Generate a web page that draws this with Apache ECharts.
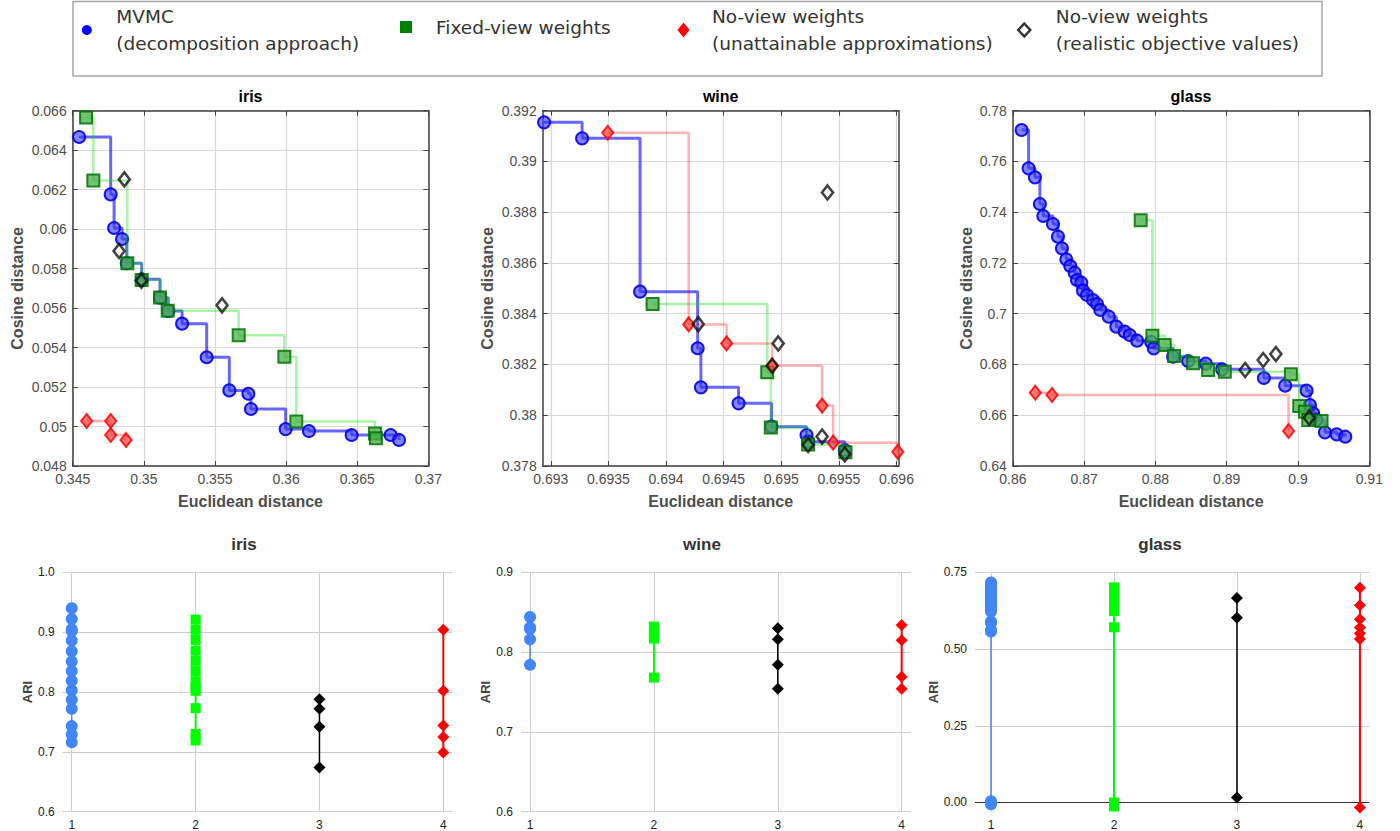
<!DOCTYPE html>
<html>
<head>
<meta charset="utf-8">
<script src="https://cdn.jsdelivr.net/npm/echarts@6/dist/echarts.min.js"></script>
<style>
html,body{margin:0;padding:0;background:#fff;}
#chart{width:1400px;height:831px;}
</style>
</head>
<body>
<div id="chart"></div>
<script>
// ---------------- DATA ----------------
const seriesNames = [
  'MVMC (decomposition approach)',
  'Fixed-view weights',
  'No-view weights (unattainable approximations)',
  'No-view weights (realistic objective values)'
];
const panelNames = ['iris', 'wine', 'glass'];

// Top row: [Euclidean distance, Cosine distance]
const irisMVMC = [[0.34545,0.06467],[0.34767,0.06176],[0.34791,0.06006],[0.34847,0.05950],[0.34880,0.05827],[0.34985,0.05746],[0.35114,0.05653],[0.35172,0.05585],[0.35269,0.05521],[0.35442,0.05351],[0.35601,0.05183],[0.35735,0.05166],[0.35753,0.05089],[0.35997,0.04987],[0.36161,0.04977],[0.36461,0.04957],[0.36735,0.04957],[0.36794,0.04932]];
const irisFixed = [[0.34594,0.06565],[0.34645,0.06247],[0.34884,0.05827],[0.34985,0.05742],[0.35114,0.05654],[0.35168,0.05587],[0.35667,0.05462],[0.35988,0.05354],[0.36072,0.05025],[0.36625,0.04965],[0.36632,0.04940]];
const irisUnattainable = [[0.34598,0.05028],[0.34767,0.05028],[0.34767,0.04957],[0.34875,0.04932]];
const irisRealistic = [[0.34863,0.06252],[0.34826,0.05889],[0.34983,0.05739],[0.35550,0.05614]];

const wineMVMC = [[0.692942,0.39154],[0.693272,0.39091],[0.693775,0.38487],[0.694275,0.38264],[0.694303,0.38110],[0.694630,0.38047],[0.694916,0.37955],[0.695220,0.37922],[0.695234,0.37896],[0.695552,0.37863]];
const wineFixed = [[0.693884,0.38438],[0.694879,0.38169],[0.694910,0.37952],[0.695234,0.37885],[0.695558,0.37854]];
const wineUnattainable = [[0.693494,0.39113],[0.694197,0.38358],[0.694526,0.38283],[0.694922,0.38195],[0.695355,0.38038],[0.695451,0.37892],[0.696012,0.37856]];
const wineRealistic = [[0.694280,0.38359],[0.694974,0.38283],[0.694922,0.38195],[0.695402,0.38878],[0.695355,0.37916],[0.695234,0.37883],[0.695552,0.37846]];

const glassMVMC = [[0.86122,0.77238],[0.86220,0.75728],[0.86309,0.75373],[0.86379,0.74323],[0.86426,0.73850],[0.86562,0.73535],[0.86632,0.73036],[0.86688,0.72576],[0.86749,0.72143],[0.86805,0.71880],[0.86866,0.71617],[0.86899,0.71329],[0.86960,0.71223],[0.86983,0.70908],[0.87039,0.70737],[0.87124,0.70540],[0.87180,0.70383],[0.87227,0.70146],[0.87344,0.69884],[0.87451,0.69490],[0.87568,0.69293],[0.87639,0.69161],[0.87742,0.68938],[0.87940,0.68890],[0.87976,0.68636],[0.88247,0.68308],[0.88458,0.68137],[0.88706,0.68032],[0.88935,0.67809],[0.89521,0.67467],[0.89820,0.67165],[0.90120,0.66968],[0.90167,0.66403],[0.90213,0.66075],[0.90260,0.65812],[0.90377,0.65326],[0.90541,0.65247],[0.90663,0.65155]];
const glassFixed = [[0.87793,0.73679],[0.87957,0.69135],[0.88130,0.68767],[0.88261,0.68334],[0.88528,0.68045],[0.88739,0.67782],[0.88973,0.67717],[0.89900,0.67612],[0.90017,0.66364],[0.90096,0.66141],[0.90143,0.65812],[0.90330,0.65773]];
const glassUnattainable = [[0.86314,0.66889],[0.86548,0.66797],[0.89867,0.65379]];
const glassRealistic = [[0.89258,0.67782],[0.89511,0.68176],[0.89689,0.68413],[0.90157,0.65904]];

// Axis tick values (top row)
const irisXTicks = [0.345,0.35,0.355,0.36,0.365,0.37];
const irisYTicks = [0.048,0.05,0.052,0.054,0.056,0.058,0.06,0.062,0.064,0.066];
const wineXTicks = [0.693,0.6935,0.694,0.6945,0.695,0.6955,0.696];
const wineYTicks = [0.378,0.38,0.382,0.384,0.386,0.388,0.39,0.392];
const glassXTicks = [0.86,0.87,0.88,0.89,0.9,0.91];
const glassYTicks = [0.64,0.66,0.68,0.7,0.72,0.74,0.76,0.78];

// Bottom row: ARI per method (1 = MVMC, 2 = fixed-view, 3 = realistic, 4 = unattainable)
const methodCategories = [1, 2, 3, 4];
const irisAriMVMC = [0.940,0.922,0.905,0.902,0.886,0.868,0.851,0.835,0.819,0.803,0.787,0.772,0.743,0.729,0.716];
const irisAriFixed = [0.921,0.904,0.887,0.869,0.852,0.835,0.818,0.808,0.802,0.773,0.730,0.719];
const irisAriRealistic = [0.788,0.772,0.742,0.674];
const irisAriUnattainable = [0.904,0.802,0.744,0.725,0.699];

const wineAriMVMC = [0.844,0.831,0.829,0.816,0.784];
const wineAriFixed = [0.832,0.826,0.820,0.817,0.768];
const wineAriRealistic = [0.830,0.816,0.784,0.754];
const wineAriUnattainable = [0.834,0.815,0.769,0.754];

const glassAriMVMC = [0.717,0.710,0.703,0.695,0.687,0.679,0.671,0.662,0.654,0.646,0.638,0.630,0.622,0.590,0.585,0.562,0.557,0.004,-0.001,-0.006];
const glassAriFixed = [0.701,0.690,0.680,0.670,0.660,0.652,0.624,0.571,0.000,-0.013];
const glassAriRealistic = [0.666,0.602,0.016];
const glassAriUnattainable = [0.700,0.643,0.597,0.570,0.551,0.533,-0.016];

const irisAriTicks = [0.6,0.7,0.8,0.9,1.0];
const wineAriTicks = [0.6,0.7,0.8,0.9];
const glassAriTicks = [0,0.25,0.5,0.75];

// ---------------- LAYOUT / STYLE ----------------
const SANS = 'Liberation Sans, Arial, Helvetica, sans-serif';
const topPanels = [
  {title:'iris', grid:{left:72.7, top:110.7, width:355.6, height:355.3}, xr:[0.345,0.37], yr:[0.048,0.066], xt:irisXTicks, yt:irisYTicks,
   series:[irisMVMC, irisFixed, irisUnattainable, irisRealistic], yGap:47.7, titleX:250.5},
  {title:'wine', grid:{left:542.7, top:110.7, width:356, height:355.3}, xr:[0.69293,0.69602], yr:[0.378,0.392], xt:wineXTicks, yt:wineYTicks,
   series:[wineMVMC, wineFixed, wineUnattainable, wineRealistic], yGap:47.7, titleX:720.7},
  {title:'glass', grid:{left:1012.9, top:110.7, width:356.4, height:355.3}, xr:[0.86,0.91], yr:[0.64,0.78], xt:glassXTicks, yt:glassYTicks,
   series:[glassMVMC, glassFixed, glassUnattainable, glassRealistic], yGap:38.4, titleX:1191}
];
const bottomPanels = [
  {title:'iris', grid:{left:62.7, top:572.3, width:389.3, height:239.4}, xr:[0.927,4.07], yr:[0.6,1.0], yt:irisAriTicks, dec:1,
   values:[irisAriMVMC, irisAriFixed, irisAriRealistic, irisAriUnattainable], yGap:29, titleX:244},
  {title:'wine', grid:{left:521, top:572.3, width:389.7, height:239.4}, xr:[0.927,4.073], yr:[0.6,0.9], yt:wineAriTicks, dec:1,
   values:[wineAriMVMC, wineAriFixed, wineAriRealistic, wineAriUnattainable], yGap:27.5, titleX:702},
  {title:'glass', grid:{left:975, top:572.3, width:394.3, height:239.4}, xr:[0.87,4.076], yr:[-0.03,0.75], yt:glassAriTicks, dec:2,
   values:[glassAriMVMC, glassAriFixed, glassAriRealistic, glassAriUnattainable], yGap:23.5, titleX:1160}
];

const topStyles = [
  {type:'line', step:'end', symbol:'circle', symbolSize:12,
   lineStyle:{color:'rgba(0,0,255,0.6)', width:3},
   itemStyle:{color:'rgba(50,50,255,0.6)', borderColor:'rgba(0,0,235,0.9)', borderWidth:2}},
  {type:'line', step:'end', symbol:'rect', symbolSize:12,
   lineStyle:{color:'rgba(0,225,0,0.35)', width:2.5},
   itemStyle:{color:'rgba(70,175,70,0.75)', borderColor:'rgba(0,115,0,0.85)', borderWidth:2}},
  {type:'line', step:'end', symbol:'diamond', symbolSize:[11,14],
   lineStyle:{color:'rgba(255,0,0,0.3)', width:2.5},
   itemStyle:{color:'rgba(255,60,60,0.7)', borderColor:'rgba(255,0,0,0.85)', borderWidth:2}},
  {type:'scatter', symbol:'diamond', symbolSize:[11,14],
   itemStyle:{color:'rgba(0,0,0,0)', borderColor:'#111', borderWidth:2.6}}
];
const bottomStyles = [
  {color:'#4285f4', symbol:'circle', size:12, width:1.5},
  {color:'#00ff00', symbol:'rect', size:10, width:2},
  {color:'#000000', symbol:'diamond', size:[12,12], width:1.5},
  {color:'#ff0000', symbol:'diamond', size:[12,12], width:2}
];

// ---------------- BUILD OPTION ----------------
const grids = [], xAxes = [], yAxes = [], series = [], titles = [];
const AX = '#404040';

function topAxis(gi, pos, range, ticks, main, isX, gap){
  const ax = {
    type:'value', gridIndex:gi, position:pos, min:range[0], max:range[1],
    axisLine:{show:true, onZero:false, lineStyle:{color:AX, width:1.5}},
    axisTick:{show:true, inside:true, length:5, customValues:ticks, lineStyle:{color:AX, width:1}},
    axisLabel:{show:main, customValues:ticks, color:'#4d4d4d', fontSize:14, fontFamily:SANS, margin:6},
    splitLine:{show:main, lineStyle:{color:'#d9d9d9', width:1.2}}
  };
  if (main){
    ax.name = isX ? 'Euclidean distance' : 'Cosine distance';
    ax.nameLocation = 'middle';
    ax.nameGap = gap;
    ax.nameTextStyle = {fontWeight:'bold', fontSize:16, color:'#4d4d4d', fontFamily:SANS};
  }
  return ax;
}

topPanels.forEach((p) => {
  const gi = grids.length;
  grids.push(Object.assign({containLabel:false}, p.grid));
  const xi = xAxes.length, yi = yAxes.length;
  xAxes.push(topAxis(gi, 'bottom', p.xr, p.xt, true, true, 27.7));
  xAxes.push(topAxis(gi, 'top', p.xr, p.xt, false, true));
  yAxes.push(topAxis(gi, 'left', p.yr, p.yt, true, false, p.yGap));
  yAxes.push(topAxis(gi, 'right', p.yr, p.yt, false, false));
  p.series.forEach((d, k) => {
    const st = topStyles[k];
    const s = {
      name: seriesNames[k], type: st.type, xAxisIndex: xi, yAxisIndex: yi, data: d,
      symbol: st.symbol, symbolSize: st.symbolSize, itemStyle: st.itemStyle,
      emphasis:{disabled:true}, animation:false, z: 2 + k
    };
    if (st.type === 'line'){ s.step = st.step; s.lineStyle = st.lineStyle; s.showSymbol = true; s.showAllSymbol = true; }
    series.push(s);
  });
  titles.push({text:p.title, left:p.titleX, top:88, textAlign:'center', padding:0,
    textStyle:{fontSize:16, fontWeight:'bold', color:'#000', fontFamily:SANS}});
});

bottomPanels.forEach((p) => {
  const gi = grids.length;
  grids.push(Object.assign({containLabel:false}, p.grid));
  const xi = xAxes.length, yi = yAxes.length;
  xAxes.push({
    type:'value', gridIndex:gi, min:p.xr[0], max:p.xr[1],
    axisLine:{show:false}, axisTick:{show:false, customValues:methodCategories},
    axisLabel:{customValues:methodCategories, color:'#222', fontSize:12, fontFamily:SANS, margin:7},
    splitLine:{show:true, lineStyle:{color:'#cccccc', width:1}}
  });
  yAxes.push({
    type:'value', gridIndex:gi, min:p.yr[0], max:p.yr[1],
    axisLine:{show:false}, axisTick:{show:false, customValues:p.yt},
    axisLabel:{customValues:p.yt, color:'#222', fontSize:12, fontFamily:SANS, margin:8,
      formatter:(v) => Number(v).toFixed(p.dec)},
    splitLine:{show:true, lineStyle:{color:'#cccccc', width:1}},
    name:'ARI', nameLocation:'middle', nameGap:p.yGap,
    nameTextStyle:{fontWeight:'bold', fontSize:13, color:'#444', fontFamily:SANS}
  });
  p.values.forEach((vals, k) => {
    const st = bottomStyles[k];
    const s = {
      name: 'ARI ' + p.title + ' ' + methodCategories[k], type:'line', xAxisIndex:xi, yAxisIndex:yi,
      data: vals.map(v => [methodCategories[k], v]),
      symbol: st.symbol, symbolSize: st.size, showSymbol:true, showAllSymbol:true,
      lineStyle:{color:st.color, width:st.width}, itemStyle:{color:st.color},
      emphasis:{disabled:true}, animation:false, z: 3
    };
    if (p.yr[0] < 0 && k === 0){
      s.markLine = {silent:true, symbol:['none','none'], label:{show:false}, animation:false,
        lineStyle:{color:'#333', width:1, type:'solid'}, data:[{yAxis:0}], z:2};
    }
    series.push(s);
  });
  titles.push({text:p.title, left:p.titleX, top:536, textAlign:'center', padding:0,
    textStyle:{fontSize:17, fontWeight:'bold', color:'#333', fontFamily:SANS}});
});

// Legend (one component per entry so each sits where the reference places it)
const LEG_FONT = 'DejaVu Sans, Verdana, sans-serif';
const legendIcons = [
  {icon:'circle', w:10, h:13, itemStyle:{color:'#0000ff', borderWidth:0}},
  {icon:'rect', w:12, h:12, itemStyle:{color:'#008000', borderWidth:0}},
  {icon:'diamond', w:12, h:15, itemStyle:{color:'#ff0000', borderWidth:0}},
  {icon:'diamond', w:12, h:13, itemStyle:{color:'rgba(0,0,0,0)', borderColor:'#000', borderWidth:2.5}}
];
const legendPlace = [
  {left:81.8, top:-5.5, pad:[17,0,0,19.5]},
  {left:400, top:11.5, pad:[0,0,4,19]},
  {left:677.5, top:-5.5, pad:[17,0,0,17.5]},
  {left:1017, top:-5.5, pad:[17,0,0,20.6]}
];
const legends = seriesNames.map((nm, k) => ({
  data:[{name:nm, icon:legendIcons[k].icon, itemStyle:legendIcons[k].itemStyle}],
  left:legendPlace[k].left, top:legendPlace[k].top, padding:0, orient:'horizontal',
  itemWidth:legendIcons[k].w, itemHeight:legendIcons[k].h, symbolKeepAspect:false,
  selectedMode:false,
  formatter:(n) => n.replace(' (', '\n('),
  textStyle:{fontFamily:LEG_FONT, fontSize:18.5, color:'#333', lineHeight:27, padding:legendPlace[k].pad}
}));

const option = {
  backgroundColor:'#ffffff',
  animation:false,
  title: titles,
  legend: legends,
  grid: grids,
  xAxis: xAxes,
  yAxis: yAxes,
  series: series,
  graphic: [{
    type:'rect', z:-10, silent:true,
    shape:{x:73, y:1.5, width:1249, height:74.5},
    style:{fill:'#ffffff', stroke:'#a6a6a6', lineWidth:1.5}
  }]
};

const chart = echarts.init(document.getElementById('chart'), null, {renderer:'svg', width:1400, height:831});
chart.setOption(option);
</script>
</body>
</html>
